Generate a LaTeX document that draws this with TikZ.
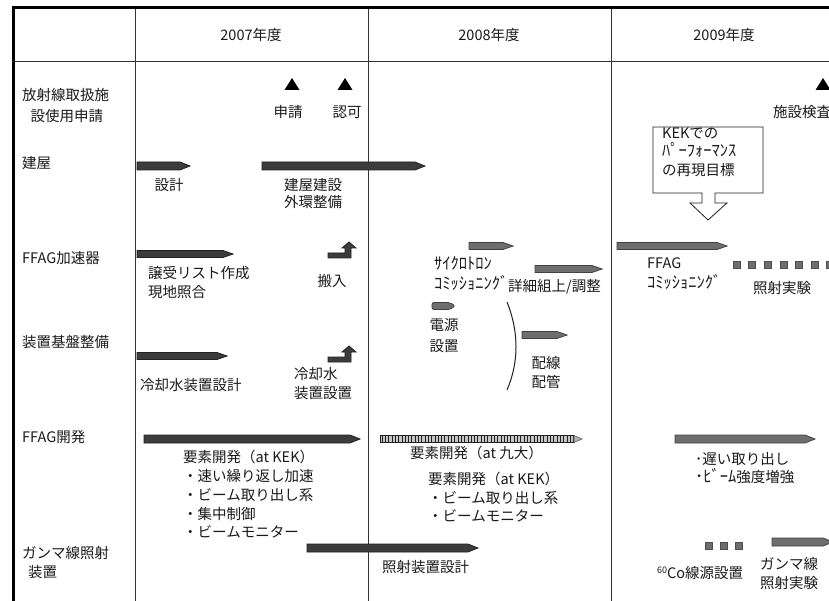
\documentclass[tikz,border=0pt]{standalone}
\usepackage{fontspec}
\setmainfont{Noto Sans CJK JP}
\definecolor{txt}{HTML}{1A1A1A}
\definecolor{bardark}{HTML}{3C3C3C}
\definecolor{barmid}{HTML}{6E6E6E}
\definecolor{edge}{HTML}{202020}
\newcommand\ganttbar[5]{% style, x1, x2, y, half height
  \path[#1] (#2,#4-#5) -- (#3-10,#4-#5) -- (#3,#4) -- (#3-10,#4+#5) -- (#2,#4+#5) -- cycle;}
\newcommand\bentarrow[2]{% bottom-left corner
  \path[darkbar] (#1,#2) -- (#1,#2-5) -- (#1+17,#2-5) -- (#1+17,#2-10) -- (#1+14,#2-10) -- (#1+21,#2-16)
    -- (#1+28,#2-10) -- (#1+23,#2-10) -- (#1+23,#2) -- cycle;}
\newcommand\trimark[2]{\path[fill=black] (#1-7.5,#2+6) -- (#1+7.5,#2+6) -- (#1,#2-6) -- cycle;}
\newcommand\hwk[1]{{\fontsize{16.5}{18}\selectfont #1}}
\tikzset{
  lbl/.style={inner sep=0pt, align=left, text=txt, font=\fontsize{14.5}{19}\selectfont},
  darkbar/.style={fill=bardark, draw=edge, line width=0.8pt},
  midbar/.style={fill=barmid, draw=edge!85, line width=0.8pt},
  gridline/.style={draw=black!80, line width=1pt},
  sq/.style={fill=barmid, draw=barmid!70!black, line width=0.5pt}
}
\begin{document}
\begin{tikzpicture}[x=1pt,y=-1pt]
\clip (0,0) rectangle (829,601);
\fill[white] (0,0) rectangle (829,601);
% table
\draw[gridline] (135,7) -- (135,601);
\draw[gridline] (368,7) -- (368,601);
\draw[gridline] (611,7) -- (611,601);
\draw[gridline] (13,62) -- (829,62);
\draw[black, line width=2.5pt] (12,7.5) -- (829,7.5);
\draw[black, line width=3pt] (13.5,6.5) -- (13.5,601);
% headers
\node[lbl] (h07) at (251,35) {2007年度};
\node[lbl] (h08) at (489,35) {2008年度};
\node[lbl] (h09) at (724,35) {2009年度};
% row labels
\node[lbl, anchor=west, font=\fontsize{14.5}{21}\selectfont] (r1) at (22,105.5) {放射線取扱施\\\hspace*{8.5pt}設使用申請};
\node[lbl, anchor=west] (r2) at (22,163) {建屋};
\node[lbl, anchor=west] (r3) at (22,258) {FFAG加速器};
\node[lbl, anchor=west] (r4) at (22,342) {装置基盤整備};
\node[lbl, anchor=west] (r5) at (22,437) {FFAG開発};
\node[lbl, anchor=west] (r6) at (22,562.5) {ガンマ線照射\\\hspace*{6pt}装置};
% milestones
\trimark{292}{84}
\trimark{345}{84}
\trimark{823}{84}
\node[lbl] (shinsei) at (288,112) {申請};
\node[lbl] (ninka) at (347,112) {認可};
\node[lbl, anchor=west] (kensa) at (773,112) {施設検査};
% building
\ganttbar{darkbar}{137}{190}{166}{4}
\ganttbar{darkbar}{262}{425}{166}{4}
\node[lbl] (sekkei) at (169,185) {設計};
\node[lbl, align=center, font=\fontsize{14.5}{17}\selectfont] (kensetsu) at (313,193.5) {建屋建設\\外環整備};
% FFAG accelerator
\ganttbar{darkbar}{137}{233}{254}{3.5}
\node[lbl, anchor=west] (joju) at (148,282.5) {譲受リスト作成\\現地照合};
\bentarrow{328}{258}
\node[lbl] (hannyu) at (332,281) {搬入};
\ganttbar{midbar}{469}{513}{246}{3.5}
\node[lbl, anchor=west, font=\fontsize{16.5}{20}\selectfont] (cyclo) at (434,273) {ｻｲｸﾛﾄﾛﾝ\\ｺﾐｯｼｮﾆﾝｸﾞ};
\ganttbar{midbar}{535}{602}{269}{3.5}
\node[lbl, anchor=west] (shosai) at (508,287) {詳細組上/調整};
\ganttbar{midbar}{617}{727}{246}{3.5}
\node[lbl, anchor=west, font=\fontsize{14.5}{20}\selectfont] (ffagcom) at (647,273.5) {FFAG\\\hwk{ｺﾐｯｼｮﾆﾝｸﾞ}};
\foreach \i in {0,...,6}
  \path[sq] ({733+15.6*\i},261.5) rectangle ++(7,7);
\node[lbl] (shosha) at (782,288) {照射実験};
% KEK callout
\path[draw=edge, line width=0.8pt, fill=white] (653,127) -- (763,127) -- (763,193) -- (715,193) -- (715,203)
  -- (727,203) -- (708,220) -- (690,203) -- (702,203) -- (702,193) -- (653,193) -- cycle;
\node[lbl, anchor=west, font=\fontsize{14.5}{18.5}\selectfont] (kek) at (662,152) {KEKでの\\\hwk{ﾊﾟｰﾌｫｰﾏﾝｽ}\\の再現目標};
% infrastructure
\ganttbar{darkbar}{137}{227}{356}{3.5}
\node[lbl, anchor=west] (reikyaku) at (140,385) {冷却水装置設計};
\bentarrow{328}{362}
\node[lbl, anchor=west] (reisetchi) at (294,383.5) {冷却水\\装置設置};
\path[midbar, rounded corners=2pt] (432,302.5) -- (450,302.5) -- (455,306) -- (450,309.5) -- (432,309.5) -- cycle;
\node[lbl, align=center, font=\fontsize{14.5}{20.5}\selectfont] (dengen) at (444,335.5) {電源\\設置};
\draw[edge, line width=1pt] (507,302) .. controls (519,332) and (519,362) .. (507,390);
\ganttbar{midbar}{522}{567}{335}{3.5}
\node[lbl, align=center] (haisen) at (546,372.5) {配線\\配管};
% FFAG development
\ganttbar{darkbar}{144}{360}{439}{4}
\node[lbl, anchor=west, font=\fontsize{14.5}{18.75}\selectfont] (dev07) at (183,494.5)
  {要素開発（at KEK）\\・速い繰り返し加速\\・ビーム取り出し系\\・集中制御\\・ビームモニター};
\path[fill=gray!45, draw=edge, line width=0.8pt] (380,435.5) rectangle (574,442.5);
\foreach \i in {0,...,58}
  \draw[edge, line width=0.6pt] ({382+3.3*\i},435.5) -- ({382+3.3*\i},442.5);
\path[fill=gray!60, draw=edge!70, line width=0.6pt] (574,435.5) -- (582,439) -- (574,442.5) -- cycle;
\node[lbl, anchor=west] (dev08a) at (410,453) {要素開発（at 九大）};
\node[lbl, anchor=west, font=\fontsize{14.5}{18.5}\selectfont] (dev08b) at (428,497.5)
  {要素開発（at KEK）\\・ビーム取り出し系\\・ビームモニター};
\ganttbar{midbar}{675}{815}{439}{4}
\node[lbl, anchor=west, font=\fontsize{14.5}{17.5}\selectfont] (dev09) at (695,468) {･遅い取り出し\\\hwk{･ﾋﾞｰﾑ}強度増強};
% gamma irradiation
\ganttbar{darkbar}{307}{478}{548}{4}
\node[lbl, anchor=west] (sochi) at (382,567) {照射装置設計};
\foreach \i in {0,1,2}
  \path[sq] ({705+15*\i},542) rectangle ++(7,7);
\node[lbl, anchor=west] (co60) at (657,573) {\raisebox{5pt}{\fontsize{9}{9}\selectfont 60}Co線源設置};
\ganttbar{midbar}{772}{833}{542}{4}
\node[lbl, anchor=west] (gamma) at (760,573.5) {ガンマ線\\照射実験};
\end{tikzpicture}
\end{document}
